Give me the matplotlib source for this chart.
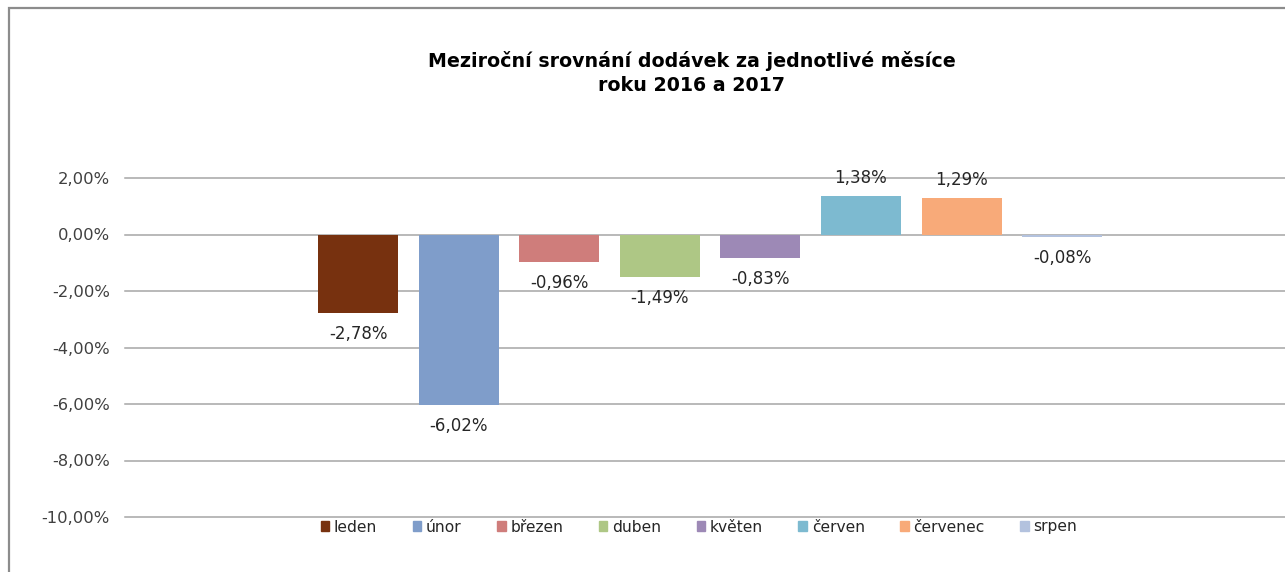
import matplotlib
matplotlib.use("Agg")
import matplotlib.pyplot as plt
from matplotlib.patches import Rectangle

months = ["leden", "únor", "březen", "duben", "květen", "červen", "červenec", "srpen"]
values = [-2.78, -6.02, -0.96, -1.49, -0.83, 1.38, 1.29, -0.08]
colors = ["#77310F", "#7F9DCA", "#CF7D7B", "#AEC785", "#9D89B6", "#7DBAD0", "#F8AA79", "#B3C2DE"]
yticks = [2, 0, -2, -4, -6, -8, -10]
title = "Meziroční srovnání dodávek za jednotlivé měsíce\nroku 2016 a 2017"

def fmt(v):
    return f"{v:.2f}".replace(".", ",") + "%"

W, H = 1285, 572
fig = plt.figure(figsize=(W / 100, H / 100), dpi=100)
fig.patch.set_facecolor("white")
plt.rcParams['font.family'] = ['DejaVu Sans']

# outer chart border
fig.patches.append(Rectangle((9 / W, -0.05), 1.1, (H - 8) / H + 0.05, transform=fig.transFigure,
                             fill=False, edgecolor="#8C8C8C", linewidth=1.6))

ax = fig.add_axes([125 / W, 1 - 517 / H, (W - 125) / W, (517 - 178) / H])
ax.set_facecolor("none")
unit = 100.6
xs = list(range(len(months)))
bars = ax.bar(xs, values, width=80 / unit, color=colors, zorder=3)
ax.set_xlim((125 - 358) / unit, (W - 358) / unit)
ax.set_ylim(-10, 2)
ax.set_yticks(yticks)
ax.set_yticklabels([fmt(t) for t in yticks], fontsize=11.8, color="#404040")
ax.tick_params(axis="y", length=0, pad=10.8)
ax.set_xticks([])
for s in ax.spines.values():
    s.set_visible(False)
ax.grid(axis="y", color="#A6A6A6", linewidth=1.1, zorder=0)
for gl in ax.get_ygridlines():
    gl.set_clip_on(False)

for x, v in zip(xs, values):
    off = 18 if v >= 0 else -21
    ax.annotate(fmt(v), (x, v), xytext=(0, off * 0.72), textcoords="offset points",
                ha="center", va="center", fontsize=12, color="#262626")

handles = [Rectangle((0, 0), 1, 1, color=c) for c in colors]
leg = fig.legend(handles, months, loc="center", bbox_to_anchor=(699 / W, 1 - 527 / H), ncol=8,
                 frameon=False, fontsize=11.2, handlelength=0.55, handleheight=0.55,
                 handletextpad=0.3, columnspacing=2.28, labelcolor="#262626")

fig.text(692 / W, 1 - 73 / H, title, ha="center", va="center", fontsize=13.65,
         fontweight="bold", color="#000000", linespacing=1.35)

fig.savefig("out.png", dpi=100)
